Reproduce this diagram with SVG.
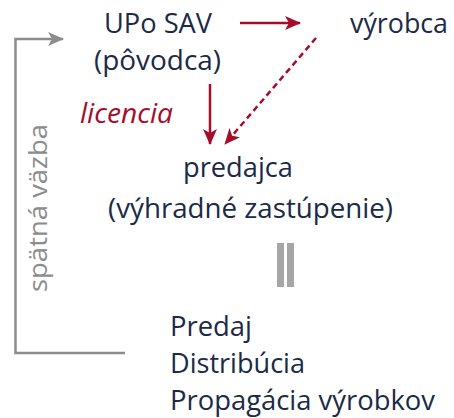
<svg xmlns="http://www.w3.org/2000/svg" width="454" height="418" viewBox="0 0 454 418">
<style>
.t{font-family:"Open Sans","Noto Sans","Liberation Sans",sans-serif;font-size:27px;fill:#1b2a47}
.lic{font-family:"Open Sans","Noto Sans","Liberation Sans",sans-serif;font-size:27px;font-style:italic;fill:#a50d2b}
.fb{font-family:"Open Sans","Noto Sans","Liberation Sans",sans-serif;font-size:25px;fill:#8c8c8c}
.red{stroke:#a50d2b;stroke-width:2.5;fill:none}
.gray{stroke:#8c8c8c;stroke-width:2.5;fill:none}
</style>
<defs>
<marker id="ar" markerUnits="userSpaceOnUse" markerWidth="16" markerHeight="16" viewBox="0 0 16 16" refX="15" refY="8" orient="auto">
<path d="M0,1 L16,8 L0,15 L4,8 z" fill="#a50d2b"/>
</marker>
<marker id="ag" markerUnits="userSpaceOnUse" markerWidth="16" markerHeight="16" viewBox="0 0 16 16" refX="15" refY="8" orient="auto">
<path d="M0,1 L16,8 L0,15 L4,8 z" fill="#8c8c8c"/>
</marker>
</defs>
<g id="connectors">
<line class="red" x1="240" y1="23" x2="300" y2="23" marker-end="url(#ar)"/>
<line class="red" x1="210" y1="84" x2="210" y2="144" marker-end="url(#ar)"/>
<line class="red" x1="316" y1="38" x2="225" y2="144" stroke-dasharray="6,4" marker-end="url(#ar)"/>
<polyline class="gray" points="125,353 15.5,353 15.5,39 63,39" marker-end="url(#ag)"/>
<rect x="277" y="243" width="7" height="44" fill="#a6a6a6"/>
<rect x="287" y="243" width="7" height="44" fill="#a6a6a6"/>
</g>
<g id="upo">
<text class="t" x="104" y="33" textLength="108" lengthAdjust="spacingAndGlyphs">UPo SAV</text>
<text class="t" x="94" y="70" textLength="127" lengthAdjust="spacingAndGlyphs">(pôvodca)</text>
</g>
<g id="vyrobca">
<text class="t" x="350" y="33" textLength="98" lengthAdjust="spacingAndGlyphs">výrobca</text>
</g>
<g id="licencia">
<text class="lic" x="80" y="123" textLength="93" lengthAdjust="spacingAndGlyphs">licencia</text>
</g>
<g id="predajca">
<text class="t" x="183" y="177" textLength="110" lengthAdjust="spacingAndGlyphs">predajca</text>
<text class="t" x="108" y="218" textLength="285" lengthAdjust="spacingAndGlyphs">(výhradné zastúpenie)</text>
</g>
<g id="cinnosti">
<text class="t" x="170" y="336" textLength="82" lengthAdjust="spacingAndGlyphs">Predaj</text>
<text class="t" x="170" y="373" textLength="135" lengthAdjust="spacingAndGlyphs">Distribúcia</text>
<text class="t" x="170" y="410" textLength="265" lengthAdjust="spacingAndGlyphs">Propagácia výrobkov</text>
</g>
<g id="spatna-vazba">
<text class="fb" transform="translate(47,292) rotate(-90)" textLength="168" lengthAdjust="spacingAndGlyphs">spätná väzba</text>
</g>
</svg>
